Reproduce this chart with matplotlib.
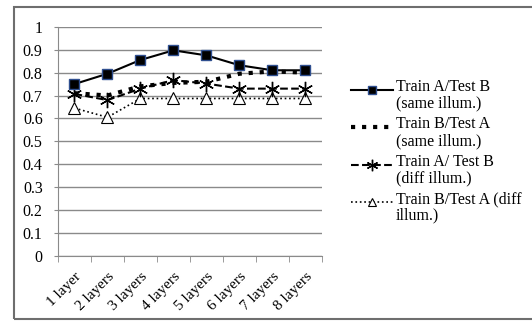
import numpy as np
import matplotlib
matplotlib.use('Agg')
import matplotlib.pyplot as plt
from matplotlib.patches import Rectangle
from matplotlib.lines import Line2D
from matplotlib.legend_handler import HandlerLine2D

plt.rcParams['font.family'] = ['Liberation Serif', 'DejaVu Serif']

layers = ['1 layer', '2 layers', '3 layers', '4 layers', '5 layers', '6 layers', '7 layers', '8 layers']
same_ab = [0.75, 0.795, 0.855, 0.897, 0.875, 0.832, 0.81, 0.81]
same_ba = [0.71, 0.70, 0.74, 0.755, 0.76, 0.795, 0.805, 0.80]
diff_ab = [0.707, 0.68, 0.73, 0.767, 0.752, 0.73, 0.73, 0.73]
diff_ba = [0.645, 0.605, 0.687, 0.687, 0.687, 0.687, 0.687, 0.687]
labels = ['Train A/Test B\n(same illum.)', 'Train B/Test A\n(same illum.)',
          'Train A/ Test B\n(diff illum.)', 'Train B/Test A (diff\nillum.)']


# legend handle sits level with the first text line, like the spreadsheet legend
class FirstLineHandler(HandlerLine2D):
    def create_artists(self, legend, orig_handle, xdescent, ydescent, width, height, fontsize, trans):
        arts = super().create_artists(legend, orig_handle, xdescent, ydescent, width, height, fontsize, trans)
        for a in arts:
            a.set_ydata(np.asarray(a.get_ydata()) + 0.36 * fontsize)
        return arts


fig = plt.figure(figsize=(5.32, 3.22), dpi=100)
ax = fig.add_axes([0.109, 0.205, 0.496, 0.712])

# outer frame like the spreadsheet chart box
fig.patches.append(Rectangle((14/532, 1-319/322), 1.2, (319-7)/322, transform=fig.transFigure,
                             fill=False, edgecolor='#6e6e6e', lw=1.5, clip_on=False))

x = np.arange(len(layers))
ax.plot(x, same_ab, '-', color='black', lw=1.5, marker='s', ms=7,
        mfc='black', mec='#2f4f8f', mew=1, label=labels[0], zorder=5)
ax.plot(x, same_ba, ':', color='black', lw=3, label=labels[1], zorder=4)
ax.plot(x, diff_ab, '--', color='black', lw=1.5, marker=(6, 2, 0), ms=11,
        mec='black', mew=1, label=labels[2], zorder=4)
ax.plot(x, diff_ba, ':', color='black', lw=1.2, marker='^', ms=8.5,
        mfc='white', mec='black', mew=0.8, label=labels[3], zorder=3)

ax.set_ylim(0, 1)
ax.set_xlim(-0.5, len(layers) - 0.5)
ax.set_yticks(np.arange(0, 1.01, 0.1))
ax.set_yticklabels(['0'] + ['%.1f' % v for v in np.arange(0.1, 0.95, 0.1)] + ['1'])
ax.yaxis.grid(True, color='#8a8a8a', lw=1)
ax.set_axisbelow(True)

ax.set_xticks(x)
ax.set_xticklabels(layers, rotation=45, ha='right', rotation_mode='anchor')
ax.set_xticks(np.arange(-0.5, len(layers)), minor=True)
ax.tick_params(axis='x', which='major', length=0, pad=10, labelsize=11)
ax.tick_params(axis='x', which='minor', length=4, color='#8a8a8a', direction='out')
ax.tick_params(axis='y', length=3, color='#8a8a8a', pad=8, labelsize=11.5)

for s in ['top', 'right']:
    ax.spines[s].set_visible(False)
ax.spines['left'].set_color('#8a8a8a')
ax.spines['bottom'].set_color('#8a8a8a')

leg = ax.legend(loc='upper left', bbox_to_anchor=(343/532, 1-71/322), bbox_transform=fig.transFigure,
                frameon=False, fontsize=11.5, handlelength=2.6, handletextpad=0.2,
                labelspacing=0.3, borderpad=0, markerscale=0.75,
                handler_map={Line2D: FirstLineHandler()})
for t in leg.get_texts():
    t.set_linespacing(1.05)

fig.savefig('out.png', dpi=100)
